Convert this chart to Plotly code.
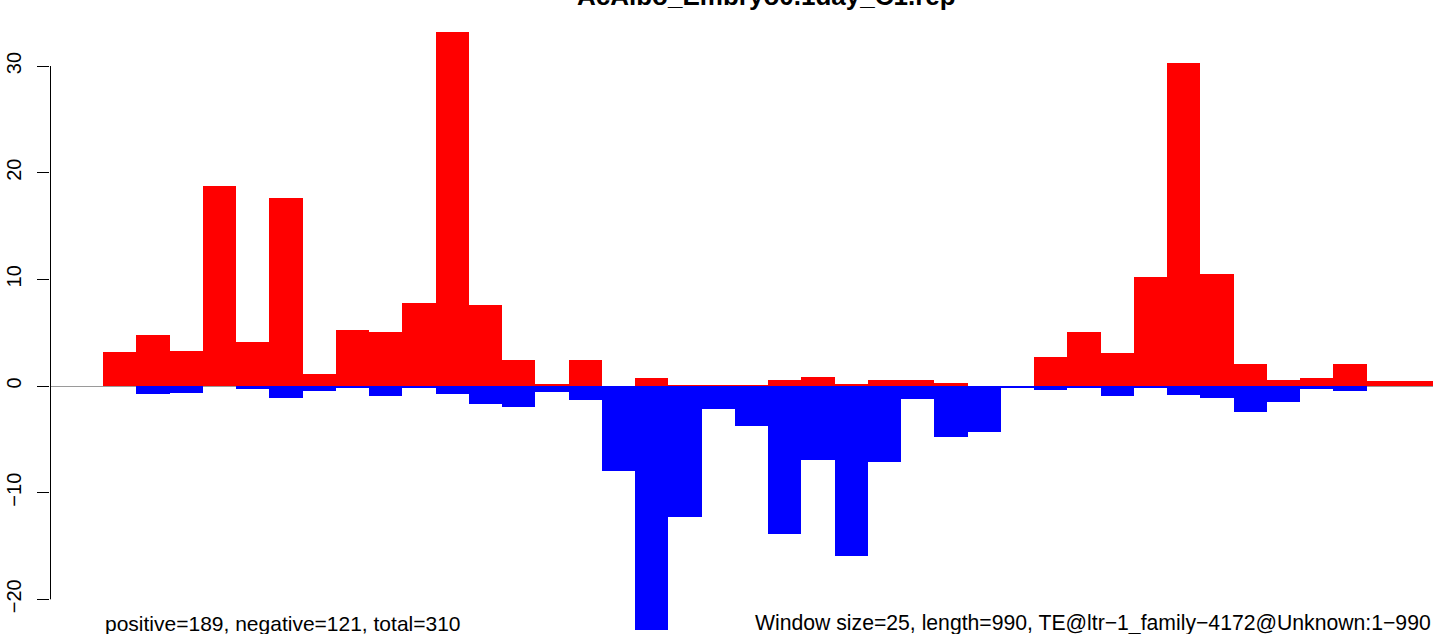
"""
Strand-split coverage of reads along a TE consensus, 25 bp windows.
Red = plus-strand counts, blue = minus-strand counts (drawn negative).
"""

import plotly.graph_objects as go


TITLE = "AcAlbo_Embryo0.1day_C1.rep"
WINDOW = 25
TE_LENGTH = 990

# window start positions along the TE (bp)
window_start = list(range(0, 1000, WINDOW))

# values per window
pos_counts = [
    3.19, 4.78, 3.28, 18.75, 4.12, 17.6, 1.12, 5.25, 5.06, 7.8,
    33.2, 7.6, 2.44, 0.15, 2.44, 0.0, 0.72, 0.1, 0.1, 0.1,
    0.56, 0.84, 0.19, 0.56, 0.56, 0.28, 0.0, 0.0, 2.72, 5.06,
    3.09, 10.2, 30.3, 10.5, 2.06, 0.56, 0.75, 2.06, 0.47, 0.47,
]
neg_counts = [
    0.0, -0.72, -0.63, 0.0, -0.25, -1.1, -0.44, -0.15, -0.9, -0.1,
    -0.72, -1.66, -1.94, -0.6, -1.28, -8.0, -22.9, -12.3, -2.15, -3.75,
    -13.85, -6.94, -15.94, -7.1, -1.22, -4.78, -4.3, -0.1, -0.38, -0.15,
    -0.9, -0.1, -0.8, -1.1, -2.4, -1.47, -0.25, -0.47, 0.0, 0.0,
]

y_ticks = [-20, -10, 0, 10, 20, 30]

n_pos, n_neg = 189, 121
left_note = f"positive={n_pos}, negative={n_neg}, total={n_pos + n_neg}"
right_note = (f"Window size={WINDOW}, length={TE_LENGTH}, "
              "TE@ltr\u22121_family\u22124172@Unknown:1\u2212990")

FONT = "Liberation Sans, Arial, Helvetica, sans-serif"
W, H, LEFT = 1433, 634, 50


fig = go.Figure()

fig.add_trace(go.Bar(
    x=window_start, y=pos_counts, width=WINDOW, offset=0,
    marker=dict(color="#FF0000", line=dict(width=0)),
    name="positive",
))
fig.add_trace(go.Bar(
    x=window_start, y=neg_counts, width=WINDOW, offset=0,
    marker=dict(color="#0000FF", line=dict(width=0)),
    name="negative",
))

# y axis line only spans the tick range, like base R (half-pixel shift keeps it crisp)
axis_x = 0.5 / (W - LEFT)
fig.add_shape(
    type="line", xref="paper", yref="y",
    x0=axis_x, x1=axis_x, y0=y_ticks[0], y1=y_ticks[-1],
    line=dict(color="black", width=1),
)

# title runs off the top edge in the original, keep it that way
fig.add_annotation(
    text=f"<b>{TITLE}</b>", xref="paper", yref="paper",
    x=0.518, y=0.979, xanchor="center", yanchor="bottom",
    showarrow=False, font=dict(family=FONT, size=26, color="black"),
)
fig.add_annotation(
    text=left_note, xref="x", yref="paper",
    x=0, y=-0.005, xanchor="left", yanchor="bottom",
    showarrow=False, font=dict(family=FONT, size=21, color="black"),
)
fig.add_annotation(
    text=right_note, xref="paper", yref="paper",
    x=1, y=-0.005, xanchor="right", yanchor="bottom",
    showarrow=False, font=dict(family=FONT, size=21.2, color="black"),
)

fig.update_layout(
    width=W,
    height=H,
    margin=dict(l=LEFT, r=0, t=0, b=0),
    barmode="overlay",
    bargap=0,
    showlegend=False,
    plot_bgcolor="white",
    paper_bgcolor="white",
    font=dict(family=FONT, color="black"),
    xaxis=dict(visible=False, range=[-39.85, 1000]),
    yaxis=dict(
        range=[-23.25, 36.19],
        tickvals=y_ticks,
        ticks="outside", ticklen=12, tickwidth=1, tickcolor="black",
        tickangle=-90,
        ticklabelstandoff=8,
        tickfont=dict(family=FONT, size=20, color="black"),
        showgrid=False,
        showline=False,
        zeroline=True, zerolinecolor="#9a9a9a", zerolinewidth=1,
    ),
)

# drop the page's default body margin so the figure sits at the window origin
fig.write_html(
    "out.html",
    config={"displayModeBar": False},
    post_script="document.body.style.margin='0';document.body.style.overflow='hidden';",
)
